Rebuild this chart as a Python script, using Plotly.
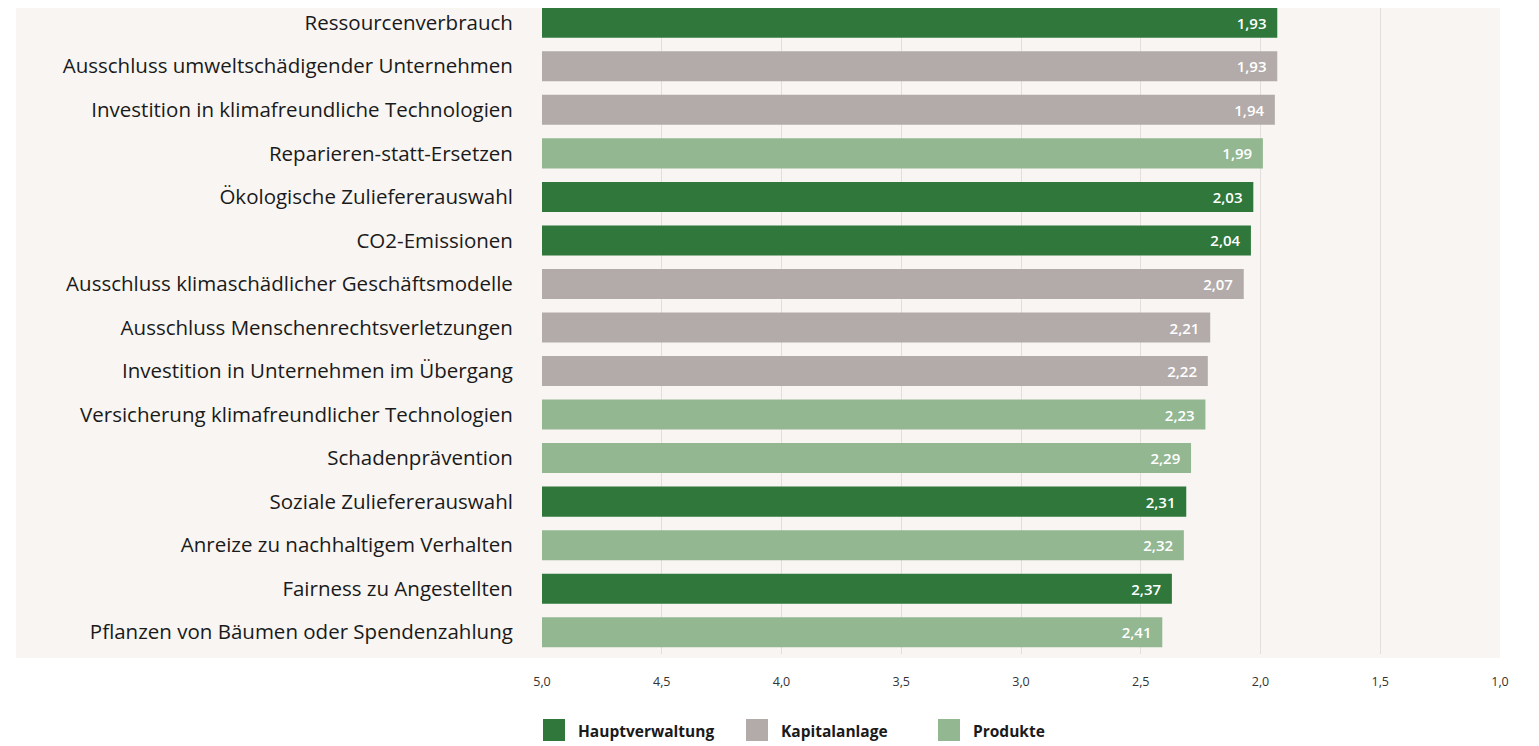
import plotly.graph_objects as go

categories = [
    "Ressourcenverbrauch",
    "Ausschluss umweltschädigender Unternehmen",
    "Investition in klimafreundliche Technologien",
    "Reparieren-statt-Ersetzen",
    "Ökologische Zuliefererauswahl",
    "CO2-Emissionen",
    "Ausschluss klimaschädlicher Geschäftsmodelle",
    "Ausschluss Menschenrechtsverletzungen",
    "Investition in Unternehmen im Übergang",
    "Versicherung klimafreundlicher Technologien",
    "Schadenprävention",
    "Soziale Zuliefererauswahl",
    "Anreize zu nachhaltigem Verhalten",
    "Fairness zu Angestellten",
    "Pflanzen von Bäumen oder Spendenzahlung",
]
values = [1.93, 1.93, 1.94, 1.99, 2.03, 2.04, 2.07, 2.21, 2.22, 2.23, 2.29, 2.31, 2.32, 2.37, 2.41]
groups = ["Hauptverwaltung", "Kapitalanlage", "Kapitalanlage", "Produkte", "Hauptverwaltung",
          "Hauptverwaltung", "Kapitalanlage", "Kapitalanlage", "Kapitalanlage", "Produkte",
          "Produkte", "Hauptverwaltung", "Produkte", "Hauptverwaltung", "Produkte"]
legend_names = ["Hauptverwaltung", "Kapitalanlage", "Produkte"]
tick_values = [5.0, 4.5, 4.0, 3.5, 3.0, 2.5, 2.0, 1.5, 1.0]
scale_start = 5.0

colors = {"Hauptverwaltung": "#2f773b", "Kapitalanlage": "#b3aba9", "Produkte": "#93b791"}

# page body has an 8px margin: work in page pixels and shift into figure pixels
OFF = 8
W, H = 1539 - OFF, 746 - OFF
PL, PR, PT, PB = 542, 1500, OFF, 654  # plot area in page pixels
ROW = (654 - 1) / 15.0  # row height in page pixels


def px_x(x):
    return (x - PL) / (PR - PL)


def px_y(y):
    return (PB - y) / (PB - PT)


FONT = "Open Sans"

labels = [f"{v:.2f}".replace(".", ",") + "\u00a0\u00a0" for v in values]

fig = go.Figure()
fig.add_trace(go.Bar(
    y=categories,
    x=[v - scale_start for v in values],
    base=scale_start,
    orientation="h",
    marker=dict(color=[colors[g] for g in groups], line=dict(width=0)),
    width=0.69,
    text=labels,
    textposition="inside",
    insidetextanchor="end",
    textfont=dict(color="white", size=15, family=FONT, weight=600),
    showlegend=False,
    hoverinfo="skip",
))

shapes = [
    dict(type="rect", xref="paper", yref="paper",
         x0=px_x(16), x1=px_x(1500), y0=px_y(658), y1=1,
         fillcolor="#f8f5f2", line=dict(width=0), layer="below"),
]
annotations = []
sq_x = [543, 746, 938]
txt_x = [576, 779, 971]
for name, sx, tx in zip(legend_names, sq_x, txt_x):
    shapes.append(dict(type="rect", xref="paper", yref="paper",
                       x0=px_x(sx), x1=px_x(sx + 22), y0=px_y(741), y1=px_y(719),
                       fillcolor=colors[name], line=dict(width=0)))
    annotations.append(dict(xref="paper", yref="paper", x=px_x(tx), y=px_y(731),
                            xanchor="left", yanchor="middle", showarrow=False,
                            text=f"<b>{name}</b>",
                            font=dict(size=15.5, color="#1a1a1a", family=FONT)))

n = len(categories)
top_cut = (PT - 1) / ROW

fig.update_layout(
    width=W, height=H,
    margin=dict(l=PL - OFF, r=(W + OFF) - PR, t=PT - OFF, b=(H + OFF) - PB, pad=0),
    paper_bgcolor="white",
    plot_bgcolor="rgba(0,0,0,0)",
    separators=",.",
    shapes=shapes,
    annotations=annotations,
    xaxis=dict(
        range=[5.0, 1.0],
        tickvals=tick_values,
        tickformat=".1f",
        showgrid=True, gridcolor="#e3dedb", gridwidth=1,
        zeroline=False, showline=False,
        ticks="outside", ticklen=16, tickcolor="rgba(0,0,0,0)",
        tickfont=dict(size=12.5, color="#333333", family=FONT),
    ),
    yaxis=dict(
        categoryorder="array", categoryarray=categories,
        range=[n - 0.5, -0.5 + top_cut],
        showgrid=False, zeroline=False, showline=False,
        ticks="outside", ticklen=24, tickcolor="rgba(0,0,0,0)",
        tickfont=dict(size=20.5, color="#1a1a1a", family=FONT),
    ),
    font=dict(family=FONT),
)

fig.write_html("out.html")
